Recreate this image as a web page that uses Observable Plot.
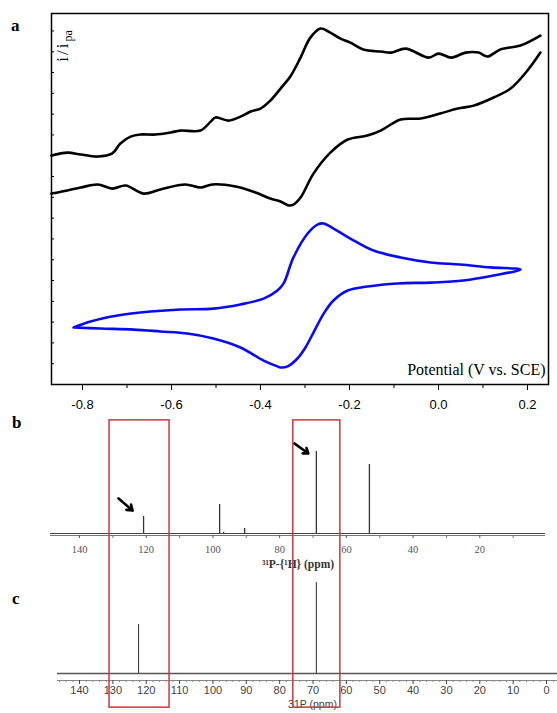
<!DOCTYPE html>
<html><head><meta charset="utf-8">
<script src="https://cdn.jsdelivr.net/npm/d3@7"></script>
<script src="https://cdn.jsdelivr.net/npm/@observablehq/plot@0.6"></script>
<style>
html,body{margin:0;padding:0;background:#fff;overflow:hidden}
#fig{position:relative;width:557px;height:713px;background:#fff}
#fig svg{position:absolute;left:0;max-width:none;background:transparent}
.lab{position:absolute;font:bold 17px "Liberation Serif",serif;line-height:1}
</style></head><body><div id="fig"></div>
<script>
// ---------- Panel a: cyclic voltammograms ----------
const potTicks = [-0.8, -0.6, -0.4, -0.2, 0.0, 0.2];
const potMinor = [-0.7, -0.5, -0.3, -0.1, 0.1];
const curTicks = d3.range(0, 18);
const blackUpperV = [-0.870,-0.834,-0.804,-0.766,-0.733,-0.715,-0.692,-0.670,-0.636,-0.602,-0.580,-0.535,-0.512,-0.501,-0.472,-0.445,-0.422,-0.400,-0.378,-0.355,-0.333,-0.310,-0.288,-0.265,-0.243,-0.220,-0.198,-0.169,-0.130,-0.106,-0.074,-0.022,0.000,0.029,0.061,0.090,0.110,0.139,0.184,0.229];
const blackUpperI = [11.01,11.15,11.06,10.96,11.11,11.59,11.92,12.02,12.02,12.12,12.21,12.21,12.64,12.84,12.69,12.88,13.13,13.27,13.65,14.23,14.81,15.72,16.68,17.12,16.92,16.63,16.44,16.11,16.01,15.96,16.15,15.72,15.91,15.72,15.96,15.96,15.77,16.11,16.30,16.78];
const blackLowerV = [-0.870,-0.834,-0.804,-0.766,-0.733,-0.703,-0.663,-0.625,-0.569,-0.535,-0.508,-0.456,-0.411,-0.378,-0.355,-0.337,-0.326,-0.310,-0.281,-0.243,-0.204,-0.160,-0.130,-0.085,-0.040,0.004,0.043,0.079,0.124,0.162,0.200,0.229];
const blackLowerI = [9.18,9.33,9.47,9.62,9.42,9.57,9.18,9.38,9.62,9.47,9.62,9.52,9.23,8.94,8.80,8.61,8.65,8.99,10.14,11.15,11.78,11.97,12.21,12.74,12.79,13.03,13.27,13.41,13.80,14.23,15.10,15.96];
const blueV = [-0.820,-0.782,-0.721,-0.647,-0.580,-0.506,-0.445,-0.393,-0.362,-0.348,-0.326,-0.294,-0.272,-0.258,-0.236,-0.198,-0.146,-0.085,-0.018,0.049,0.117,0.184,0.124,0.056,-0.018,-0.092,-0.160,-0.204,-0.236,-0.258,-0.281,-0.299,-0.317,-0.339,-0.355,-0.362,-0.393,-0.445,-0.506,-0.564,-0.625,-0.685,-0.760,-0.820];
const blueI = [2.74,3.03,3.32,3.51,3.61,3.65,3.85,4.13,4.52,4.86,6.11,7.26,7.69,7.74,7.50,7.02,6.44,6.11,5.87,5.77,5.63,5.53,5.24,5.00,4.90,4.86,4.71,4.52,4.04,3.41,2.50,1.78,1.25,0.87,0.82,0.87,1.15,1.78,2.21,2.45,2.55,2.64,2.69,2.74];
const potLabel = "Potential (V vs. SCE)";

// ---------- Panel b: 31P{1H} NMR ----------
const bTicks = [140, 120, 100, 80, 60, 40, 20];
const bMinor = [130, 110, 90, 70, 50, 30, 10];
const bPpm = [120.8, 98.0, 96.8, 90.5, 69.0, 53.1];
const bInt = [20.7, 35.4, 1.5, 6.1, 100, 84.1];
const arrowX1 = [128.3, 75.6], arrowY1 = [42.7, 109.8];
const arrowX2 = [124.1, 71.4], arrowY2 = [28.0, 97.6];
const bLabel = "³¹P-{¹H} (ppm)";

// ---------- Panel c: 31P NMR ----------
const cTicks = [140, 130, 120, 110, 100, 90, 80, 70, 60, 50, 40, 30, 20, 10, 0];
const cMinor = d3.range(-2, 148, 2).filter(d => d % 10 !== 0);
const cPpm = [122.3, 69.0];
const cInt = [53.8, 100];
const cLabel = "31P (ppm)";

// ---------- Highlight boxes (ppm ranges) ----------
const boxLo = [113.0, 61.8];
const boxHi = [131.0, 75.9];

const fig = document.getElementById("fig");
const zip = (xs, ys) => xs.map((x, i) => ({x, y: ys[i]}));

// Panel a
const aY = [0, 17.84];
const plotA = Plot.plot({
  width: 557, height: 415,
  marginLeft: 51, marginRight: 9, marginTop: 13, marginBottom: 31,
  x: {domain: [-0.8697, 0.2472]},
  y: {domain: aY},
  style: {fontFamily: "Liberation Sans, sans-serif", fontSize: "13px", color: "black", background: "transparent"},
  marks: [
    Plot.line(zip(blackUpperV, blackUpperI), {x: "x", y: "y", stroke: "black", strokeWidth: 2.6, curve: "catmull-rom"}),
    Plot.line(zip(blackLowerV, blackLowerI), {x: "x", y: "y", stroke: "black", strokeWidth: 2.6, curve: "catmull-rom"}),
    Plot.line(zip(blueV, blueI), {x: "x", y: "y", stroke: "#0a0af0", strokeWidth: 2.6, curve: "catmull-rom"}),
    Plot.frame({stroke: "black", strokeWidth: 1.5}),
    Plot.axisX({ticks: potTicks, tickSize: 6, tickPadding: 9, tickFormat: d => d.toFixed(1), label: null, fontSize: 13}),
    Plot.axisX({ticks: potMinor, tickSize: 4, tickFormat: () => "", label: null}),
    Plot.axisY({ticks: curTicks, tickSize: 3, dx: 3, tickFormat: () => "", label: null}),
    Plot.text([potLabel], {frameAnchor: "bottom-right", textAnchor: "end", dx: -3, dy: -10, fontSize: 16, fontFamily: "Liberation Serif, serif", text: d => d})
  ]
});
plotA.style.top = "0px";
fig.appendChild(plotA);
{
  const t = d3.select(plotA).append("text")
    .attr("transform", "translate(68,46) rotate(-90)")
    .style("font-family", "Liberation Serif, serif")
    .style("font-size", "17px")
    .attr("fill", "black");
  t.append("tspan").attr("letter-spacing", 2).text("i/i");
  t.append("tspan").style("font-size", "12px").attr("dy", 4).text("pa");
}

// Panel b
const bY = [-2.44, 134.1];
const plotB = Plot.plot({
  width: 557, height: 160,
  marginLeft: 50, marginRight: 12, marginTop: 10, marginBottom: 38,
  x: {domain: [148.7, 0.31]},
  y: {domain: bY, axis: null},
  style: {fontFamily: "Liberation Serif, serif", fontSize: "10.5px", color: "#555", background: "transparent"},
  marks: [
    Plot.ruleY([bY[0]], {stroke: "#777", strokeWidth: 1.2}),
    Plot.ruleY([0], {stroke: "#444", strokeWidth: 1.2}),
    Plot.ruleX(zip(bPpm, bInt), {x: "x", y1: 0, y2: "y", stroke: "#333", strokeWidth: 1.3}),
    Plot.axisX({ticks: bTicks, tickSize: 3, tickPadding: 7, label: null, color: "#555", fontSize: 10.5}),
    Plot.axisX({ticks: bMinor, tickSize: 3, tickFormat: () => "", label: null, color: "#777"}),
    Plot.arrow(arrowX1.map((x, i) => ({x1: x, y1: arrowY1[i], x2: arrowX2[i], y2: arrowY2[i]})),
      {x1: "x1", y1: "y1", x2: "x2", y2: "y2", stroke: "black", strokeWidth: 2.6, headLength: 7, headAngle: 70}),
    Plot.text([bLabel], {frameAnchor: "bottom", dy: 32, fontWeight: "bold", fontSize: 11.5, fill: "#333", text: d => d})
  ]
});
plotB.style.top = "413px";
fig.appendChild(plotB);

// Panel c
const cY = [-7.69, 104.4];
const plotC = Plot.plot({
  width: 557, height: 138,
  marginLeft: 57, marginRight: 0, marginTop: 3, marginBottom: 33,
  x: {domain: [146.6, -3.29]},
  y: {domain: cY, axis: null},
  style: {fontFamily: "Liberation Sans, sans-serif", fontSize: "10.5px", color: "#444", background: "transparent"},
  marks: [
    Plot.ruleY([cY[0]], {stroke: "#888", strokeWidth: 1}),
    Plot.ruleY([0], {stroke: "#555", strokeWidth: 1.6}),
    Plot.ruleX(zip(cPpm, cInt), {x: "x", y1: 0, y2: "y", stroke: "#444", strokeWidth: 1.1}),
    Plot.axisX({ticks: cTicks, tickSize: 4, tickPadding: 2, label: null, color: "#444", fontSize: 11}),
    Plot.axisX({ticks: cMinor, tickSize: 2, tickFormat: () => "", label: null, color: "#888"}),
    Plot.text([cLabel], {frameAnchor: "bottom", dx: 5, dy: 27, fontSize: 10.5, fill: "#444", text: d => d})
  ]
});
plotC.style.top = "575px";
fig.appendChild(plotC);

// Red highlight boxes spanning panels b and c
const plotBox = Plot.plot({
  width: 557, height: 293,
  margin: 0,
  x: {domain: [163.68, -3.29], axis: null},
  y: {domain: [-0.01, 1.01], axis: null},
  style: {background: "transparent"},
  marks: [
    Plot.rect(boxLo.map((lo, i) => ({lo, hi: boxHi[i]})), {x1: "lo", x2: "hi", y1: 0, y2: 1, fill: "none", stroke: "#c63b3f", strokeWidth: 1.5})
  ]
});
plotBox.style.top = "417px";
fig.appendChild(plotBox);

// Panel letters
[["a", 11, 17], ["b", 12, 414], ["c", 12, 590]].forEach(([t, l, tp]) => {
  const s = document.createElement("div");
  s.className = "lab"; s.textContent = t;
  s.style.left = l + "px"; s.style.top = tp + "px";
  fig.appendChild(s);
});
</script>
</body></html>
